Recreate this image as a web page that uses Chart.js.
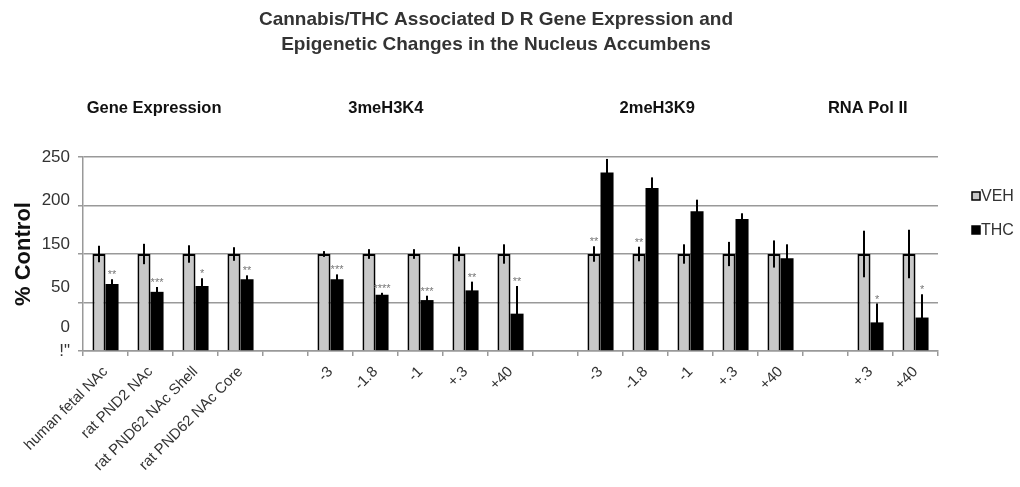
<!DOCTYPE html>
<html>
<head>
<meta charset="utf-8">
<script src="https://cdn.jsdelivr.net/npm/chart.js@4.4.1/dist/chart.umd.min.js"></script>
<style>
  html, body { margin: 0; background: #fff; }
  #wrap { width: 1020px; height: 487px; position: relative; }
</style>
</head>
<body>
<div id="wrap"><canvas id="chart"></canvas></div>
<script>
const categories = [
    "human fetal NAc", "rat PND2 NAc", "rat PND62 NAc Shell", "rat PND62 NAc Core", "",
    "-3", "-1.8", "-1", "+.3", "+40", "",
    "-3", "-1.8", "-1", "+.3", "+40", "",
    "+.3", "+40"
];

const vehValues = [100, 100, 100, 100, null, 100, 100, 100, 100, 100, null, 100, 100, 100, 100, 100, null, 100, 100];
const vehErrors = [8.5, 10.5, 9, 7, null, 3, 5, 5, 7.5, 10, null, 8, 7.5, 10, 12.5, 14, null, 24, 25];
const thcValues = [69, 61, 67, 74, null, 74, 58, 52.5, 62.5, 38.5, null, 184, 168, 144, 136, 95.5, null, 29.5, 34.5];
const thcErrors = [5, 5, 8, 4, null, 5, 2, 4.5, 9, 28.5, null, 14, 11, 12, 6, 14.5, null, 19.5, 24];

const vehStars = ["", "", "", "", "", "", "", "", "", "", "", "**", "**", "", "", "", "", "", ""];
const thcStars = ["**", "***", "*", "**", "", "***", "****", "***", "**", "**", "", "", "", "", "", "", "", "*", "*"];

const groupHeaders = ["Gene Expression", "3meH3K4", "2meH3K9", "RNA Pol II"];
const groupHeaderAt = [1.08, 6.23, 12.26, 16.94];

// the y labels of the original figure do not sit on its grid lines
const yGridValues = [0, 50, 100, 150, 200];
const yLabelValues = [0, 24, 66, 110, 155, 200];
const yLabelTexts = ['!"', "0", "50", "150", "200", "250"];

Chart.defaults.font.family = "'Liberation Sans', Arial, sans-serif";
Chart.defaults.color = "#333";

const errorBars = {
    id: "errorBars",
    afterDatasetsDraw(chart) {
        const ctx = chart.ctx;
        const y = chart.scales.y;
        const errs = [vehErrors, thcErrors];
        const stars = [vehStars, thcStars];
        chart.data.datasets.forEach((ds, d) => {
            const meta = chart.getDatasetMeta(d);
            meta.data.forEach((bar, i) => {
                const v = ds.data[i];
                if (v === null) return;
                const top = y.getPixelForValue(v + errs[d][i]);
                const bottom = y.getPixelForValue(v - errs[d][i]);
                ctx.save();
                ctx.strokeStyle = "#000";
                ctx.lineWidth = 2;
                ctx.beginPath();
                ctx.moveTo(bar.x, top);
                ctx.lineTo(bar.x, bottom);
                ctx.stroke();
                if (stars[d][i]) {
                    ctx.fillStyle = "#777";
                    ctx.font = "11px 'Liberation Sans', Arial, sans-serif";
                    ctx.textAlign = "center";
                    ctx.textBaseline = "middle";
                    ctx.fillText(stars[d][i], bar.x, top - 4);
                }
                ctx.restore();
            });
        });
    }
};

const headersAndLegend = {
    id: "headersAndLegend",
    afterDraw(chart) {
        const ctx = chart.ctx;
        const x = chart.scales.x;
        const area = chart.chartArea;
        ctx.save();
        ctx.fillStyle = "#111";
        ctx.font = "bold 16.5px 'Liberation Sans', Arial, sans-serif";
        ctx.textAlign = "center";
        ctx.textBaseline = "middle";
        groupHeaders.forEach((h, i) => {
            ctx.fillText(h, x.getPixelForValue(groupHeaderAt[i]), area.top - 49);
        });

        // legend
        ctx.font = "16px 'Liberation Sans', Arial, sans-serif";
        ctx.textAlign = "left";
        chart.data.datasets.forEach((ds, i) => {
            const cy = area.top + 39 + i * 34;
            const bx = area.right + 34;
            ctx.fillStyle = ds.backgroundColor;
            ctx.fillRect(bx, cy - 4, 8, 8);
            ctx.strokeStyle = "#000";
            ctx.lineWidth = 1.5;
            ctx.strokeRect(bx, cy - 4, 8, 8);
            ctx.fillStyle = "#333";
            ctx.fillText(ds.label, bx + 9, cy + 1);
        });
        ctx.restore();
    }
};

new Chart(document.getElementById("chart"), {
    type: "bar",
    data: {
        labels: categories,
        datasets: [
            {
                label: "VEH",
                data: vehValues,
                backgroundColor: "#c8c8c8",
                borderColor: "#000",
                borderWidth: 2
            },
            {
                label: "THC",
                data: thcValues,
                backgroundColor: "#000",
                borderColor: "#000",
                borderWidth: 0
            }
        ]
    },
    options: {
        responsive: true,
        maintainAspectRatio: false,
        animation: false,
        layout: { padding: { left: 0, right: 28, top: 0, bottom: 0 } },
        datasets: {
            bar: { categoryPercentage: 0.58, barPercentage: 1 }
        },
        plugins: {
            legend: { display: false },
            tooltip: { enabled: false },
            title: {
                display: true,
                text: [
                    "Cannabis/THC Associated D R Gene Expression and",
                    "Epigenetic Changes in the Nucleus Accumbens"
                ],
                color: "#333",
                font: { size: 19, weight: "bold", lineHeight: 1.3 },
                padding: { top: 7.6, bottom: 100 }
            }
        },
        scales: {
            x: {
                afterFit: (s) => { s.height = 136; },
                grid: {
                    drawOnChartArea: false,
                    drawTicks: true,
                    tickLength: 5,
                    color: "#999",
                    lineWidth: 1.5
                },
                border: { display: true, color: "#999", width: 1.5 },
                ticks: {
                    autoSkip: false,
                    maxRotation: 45,
                    minRotation: 45,
                    padding: 7,
                    color: "#333",
                    font: { size: 15 }
                }
            },
            y: {
                min: 0,
                max: 200,
                afterFit: (s) => { s.width = 83; },
                afterBuildTicks: (s) => {
                    const vals = [...new Set([...yGridValues, ...yLabelValues])].sort((a, b) => a - b);
                    s.ticks = vals.map((v) => ({ value: v }));
                },
                grid: {
                    color: (c) => yGridValues.includes(c.tick.value) ? "#999" : "rgba(0,0,0,0)",
                    lineWidth: 1.5,
                    tickLength: 5
                },
                border: { display: true, color: "#999", width: 1.5 },
                ticks: {
                    padding: 8,
                    color: "#333",
                    font: { size: 17 },
                    callback: (v) => {
                        const k = yLabelValues.indexOf(v);
                        return k >= 0 ? yLabelTexts[k] : "";
                    }
                },
                title: {
                    display: true,
                    text: "% Control",
                    color: "#111",
                    font: { size: 22, weight: "bold" },
                    padding: { top: 11, bottom: 0 }
                }
            },
            // empty right-hand axis that keeps room for the legend
            side: {
                type: "linear",
                position: "right",
                afterFit: (s) => { s.width = 54; },
                grid: { display: false },
                border: { display: false },
                ticks: { display: false }
            }
        }
    },
    plugins: [errorBars, headersAndLegend]
});
</script>
</body>
</html>
